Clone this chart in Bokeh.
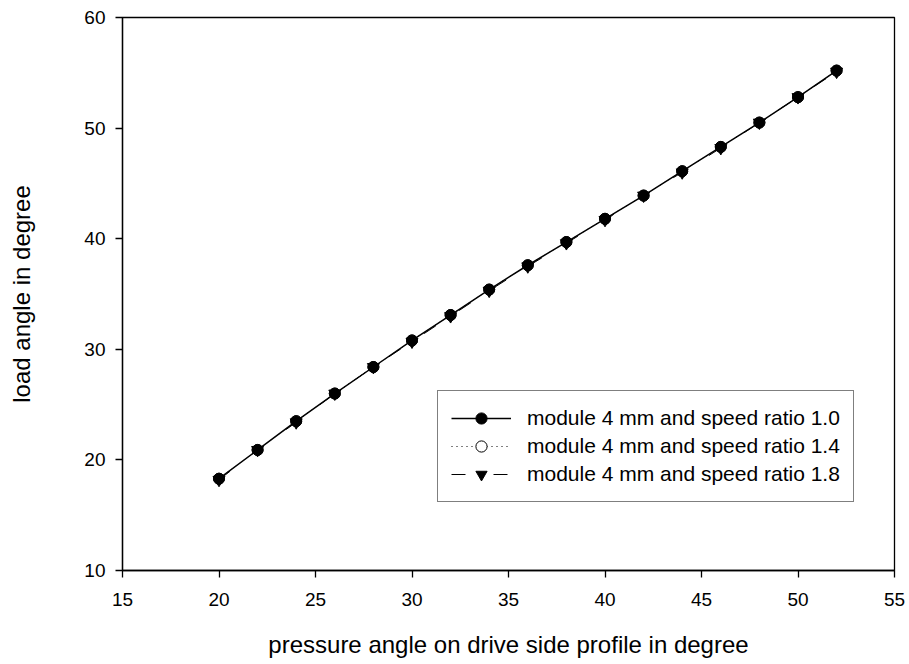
from bokeh.plotting import figure
from bokeh.models import Range1d, FixedTicker, Legend, LegendItem
from bokeh.embed import file_html
from bokeh.resources import INLINE

# pressure angle on drive side (deg) and resulting load angle (deg)
pressure_angle = [20, 22, 24, 26, 28, 30, 32, 34, 36, 38, 40, 42, 44, 46, 48, 50, 52]
load_ratio_10 = [18.3, 20.9, 23.5, 26.0, 28.4, 30.8, 33.1, 35.4, 37.6, 39.7, 41.8, 43.9, 46.1, 48.3, 50.5, 52.8, 55.2]
load_ratio_14 = [18.3, 20.9, 23.5, 26.0, 28.4, 30.8, 33.1, 35.4, 37.6, 39.7, 41.8, 43.9, 46.1, 48.3, 50.5, 52.8, 55.2]
load_ratio_18 = [18.2, 20.9, 23.4, 26.0, 28.4, 30.7, 33.0, 35.3, 37.5, 39.6, 41.7, 43.9, 46.0, 48.2, 50.5, 52.8, 55.1]

series_labels = [
    "module 4 mm and speed ratio 1.0",
    "module 4 mm and speed ratio 1.4",
    "module 4 mm and speed ratio 1.8",
]
x_ticks = [15, 20, 25, 30, 35, 40, 45, 50, 55]
y_ticks = [10, 20, 30, 40, 50, 60]

FONT = "Liberation Sans"

p = figure(width=909, height=664, output_backend="svg", toolbar_location=None,
           x_range=Range1d(15, 55), y_range=Range1d(10, 60))
p.min_border_left = 122
p.min_border_right = 15
p.min_border_top = 17
p.min_border_bottom = 94
p.grid.visible = False
p.outline_line_color = "black"
p.outline_line_width = 1.3
p.background_fill_color = "white"
p.border_fill_color = "white"

for ax in (p.xaxis[0], p.yaxis[0]):
    ax.axis_line_color = "black"
    ax.axis_line_width = 1.3
    ax.major_tick_line_color = "black"
    ax.major_tick_line_width = 1.3
    ax.major_tick_out = 7
    ax.major_tick_in = 0
    ax.minor_tick_line_color = None
    ax.major_label_text_font = FONT
    ax.major_label_text_font_size = "19px"
    ax.major_label_text_color = "black"
    ax.axis_label_text_font = FONT
    ax.axis_label_text_font_size = "24px"
    ax.axis_label_text_font_style = "normal"
    ax.axis_label_text_color = "black"

p.xaxis.ticker = FixedTicker(ticks=x_ticks)
p.yaxis.ticker = FixedTicker(ticks=y_ticks)
p.xaxis.axis_label = "pressure angle on drive side profile in degree"
p.yaxis.axis_label = "load angle in degree"
p.xaxis.major_label_standoff = 15
p.yaxis.major_label_standoff = 10
p.xaxis.axis_label_standoff = 22
p.yaxis.axis_label_standoff = 46

# speed ratio 1.4: dotted line, open circles
l14 = p.line(pressure_angle, load_ratio_14, line_color="black", line_width=1, line_dash="1 4")
m14 = p.scatter(pressure_angle, load_ratio_14, marker="circle", size=11,
                fill_color="white", line_color="black", line_width=1)
# speed ratio 1.8: dashed line, filled down-triangles
l18 = p.line(pressure_angle, load_ratio_18, line_color="black", line_width=1, line_dash="14 28")
m18 = p.scatter(pressure_angle, load_ratio_18, marker="inverted_triangle", size=12,
                fill_color="black", line_color="black")
# speed ratio 1.0: solid line, filled circles
l10 = p.line(pressure_angle, load_ratio_10, line_color="black", line_width=1.5)
m10 = p.scatter(pressure_angle, load_ratio_10, marker="circle", size=11,
                fill_color="black", line_color="black")

legend = Legend(items=[
    LegendItem(label=series_labels[0], renderers=[l10, m10]),
    LegendItem(label=series_labels[1], renderers=[l14, m14]),
    LegendItem(label=series_labels[2], renderers=[l18, m18]),
], location=(315, 68))
legend.glyph_width = 60
legend.glyph_height = 28
legend.label_height = 28
legend.spacing = 0
legend.padding = 13
legend.margin = 0
legend.label_standoff = 16
legend.label_text_font = FONT
legend.label_text_font_size = "21px"
legend.label_text_color = "black"
legend.border_line_color = "black"
legend.border_line_width = 1.3
legend.background_fill_color = "white"
legend.background_fill_alpha = 1.0
p.add_layout(legend, "center")

open("out.html", "w").write(file_html(p, INLINE))
